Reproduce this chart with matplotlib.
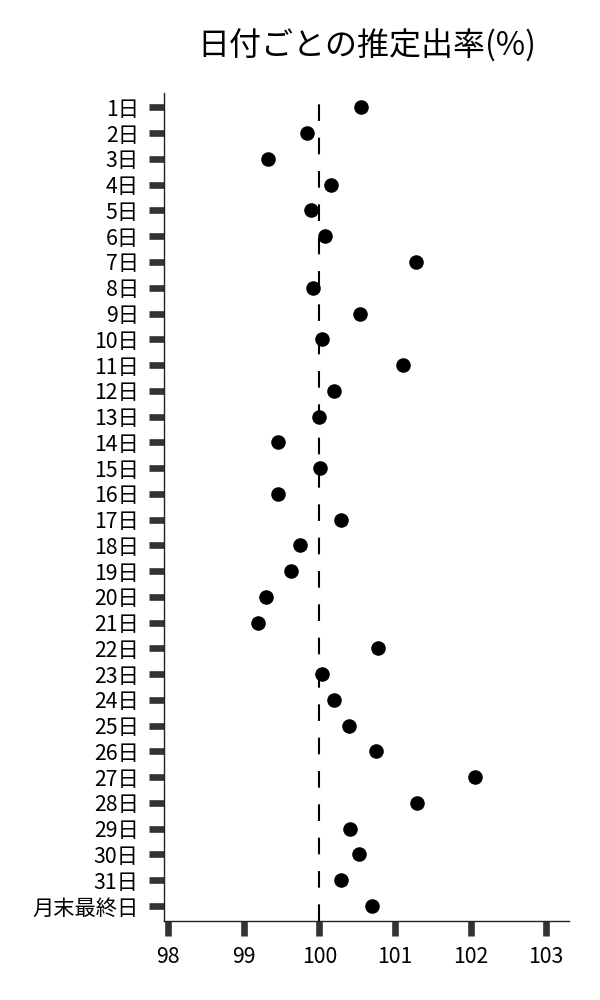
import matplotlib
matplotlib.use("Agg")
import matplotlib.pyplot as plt

plt.rcParams['font.family'] = ['Noto Sans CJK JP', 'DejaVu Sans']

days = [f"{i}日" for i in range(1, 32)] + ["月末最終日"]
rates = [100.55, 99.83, 99.32, 100.16, 99.89, 100.08, 101.28, 99.91,
         100.54, 100.03, 101.11, 100.19, 99.99, 99.45, 100.01, 99.45,
         100.28, 99.74, 99.63, 99.30, 99.19, 100.77, 100.03, 100.20,
         100.39, 100.75, 102.06, 101.29, 100.40, 100.53, 100.28, 100.69]
xticks = [98, 99, 100, 101, 102, 103]

fig = plt.figure(figsize=(6, 10), dpi=100)
ax = fig.add_axes([0.274, 0.0793, 0.674, 0.8277])

ypos = list(range(len(days)))
ax.axvline(100, color="black", lw=1.5, linestyle=(0, (8, 8)), zorder=1)
ax.scatter(rates, ypos, s=110, color="black", zorder=3, linewidths=0)

ax.set_yticks(ypos)
ax.set_yticklabels(days)
ax.set_ylim(len(days) - 1 + 0.57, -0.56)
ax.set_xticks(xticks)
ax.set_xlim(97.95, 103.3)

for s in ["top", "right"]:
    ax.spines[s].set_visible(False)
for s in ["left", "bottom"]:
    ax.spines[s].set_linewidth(1.0)
    ax.spines[s].set_color("#222222")

ax.tick_params(axis="both", length=10.5, width=4.8, color="#333333",
               labelsize=15.3, pad=8)

ax.set_title("日付ごとの推定出率(%)", fontsize=23, pad=27, loc="center")

fig.savefig("out.png", dpi=100)
